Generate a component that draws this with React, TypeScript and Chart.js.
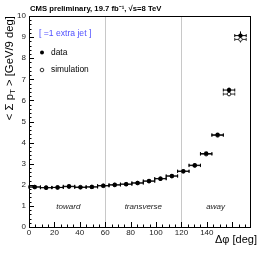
import React, { useEffect, useRef } from "react";
import { Chart, registerables } from "chart.js";

Chart.register(...registerables);

const binCenters = [4.5, 13.5, 22.5, 31.5, 40.5, 49.5, 58.5, 67.5, 76.5, 85.5, 94.5, 103.5, 112.5, 121.5, 130.5, 139.5, 148.5, 157.5, 166.5];
const binHalfWidth = 4.5;
const dataValues = [1.90, 1.86, 1.87, 1.93, 1.88, 1.90, 1.96, 2.00, 2.03, 2.09, 2.18, 2.29, 2.42, 2.65, 2.93, 3.48, 4.37, 6.49, 9.07];
const dataErrors = [0.03, 0.03, 0.03, 0.03, 0.03, 0.03, 0.03, 0.03, 0.03, 0.03, 0.03, 0.04, 0.04, 0.04, 0.05, 0.06, 0.08, 0.12, 0.2];
const simValues = [1.89, 1.87, 1.88, 1.91, 1.89, 1.90, 1.95, 1.99, 2.03, 2.08, 2.17, 2.29, 2.41, 2.63, 2.91, 3.45, 4.34, 6.30, 8.89];
const simErrors = [0.02, 0.02, 0.02, 0.02, 0.02, 0.02, 0.02, 0.02, 0.02, 0.02, 0.02, 0.03, 0.03, 0.03, 0.04, 0.05, 0.06, 0.1, 0.15];
const regionLines = [60, 120];
const regionLabels = ["toward", "transverse", "away"];
const regionCenters = [31, 90, 147];
const xMax = 174;
const yMax = 10;

const FONT = "'Liberation Sans', Arial, Helvetica, sans-serif";

const drawPlugin = {
  id: "rootStyle",
  beforeDatasetsDraw(chart: any) {
    const { ctx, chartArea: a, scales } = chart;
    const xs = scales.x;
    const ys = scales.y;
    ctx.save();
    ctx.strokeStyle = "#c8c8c8";
    ctx.lineWidth = 1;
    regionLines.forEach((v) => {
      const px = Math.round(xs.getPixelForValue(v)) + 0.5;
      ctx.beginPath();
      ctx.moveTo(px, a.top);
      ctx.lineTo(px, a.bottom);
      ctx.stroke();
    });
    const drawErr = (vals: number[], errs: number[], color: string) => {
      ctx.strokeStyle = color;
      ctx.lineWidth = 1;
      vals.forEach((v, i) => {
        const cx = xs.getPixelForValue(binCenters[i]);
        const x1 = xs.getPixelForValue(binCenters[i] - binHalfWidth);
        const x2 = xs.getPixelForValue(binCenters[i] + binHalfWidth);
        const cy = ys.getPixelForValue(v);
        const y1 = ys.getPixelForValue(v - errs[i]);
        const y2 = ys.getPixelForValue(v + errs[i]);
        ctx.beginPath();
        ctx.moveTo(x1, cy);
        ctx.lineTo(x2, cy);
        ctx.moveTo(x1, cy - 1.5);
        ctx.lineTo(x1, cy + 1.5);
        ctx.moveTo(x2, cy - 1.5);
        ctx.lineTo(x2, cy + 1.5);
        ctx.moveTo(cx, Math.min(y2, cy - 0.5));
        ctx.lineTo(cx, Math.max(y1, cy + 0.5));
        ctx.stroke();
      });
    };
    drawErr(simValues, simErrors, "#333");
    drawErr(dataValues, dataErrors, "#000");
    ctx.restore();
  },
  afterDraw(chart: any) {
    const { ctx, chartArea: a, scales } = chart;
    const xs = scales.x;
    const ys = scales.y;
    ctx.save();
    ctx.strokeStyle = "#000";
    ctx.lineWidth = 1;
    ctx.strokeRect(Math.round(a.left) + 0.5, Math.round(a.top) + 0.5, Math.round(a.right - a.left), Math.round(a.bottom - a.top));
    ctx.beginPath();
    for (let v = 0; v <= xMax + 1e-6; v += 5) {
      const px = Math.round(xs.getPixelForValue(v)) + 0.5;
      const len = v % 20 === 0 ? 5 : 2.5;
      ctx.moveTo(px, a.bottom);
      ctx.lineTo(px, a.bottom - len);
    }
    for (let k = 0; k <= yMax * 5; k++) {
      const v = k / 5;
      const py = Math.round(ys.getPixelForValue(v)) + 0.5;
      const len = k % 5 === 0 ? 5 : 2.5;
      ctx.moveTo(a.left, py);
      ctx.lineTo(a.left + len, py);
    }
    ctx.stroke();

    // header
    ctx.fillStyle = "#000";
    ctx.font = `bold 7.7px ${FONT}`;
    ctx.textAlign = "left";
    ctx.textBaseline = "middle";
    ctx.fillText("CMS preliminary, 19.7 fb\u207B\u00B9, \u221As=8 TeV", a.left + 1, 9);

    // legend
    ctx.fillStyle = "#5050ff";
    ctx.font = `8.6px ${FONT}`;
    ctx.fillText("[ =1 extra jet ]", 39, 34);
    ctx.fillStyle = "#000";
    ctx.font = `8.4px ${FONT}`;
    ctx.fillText("data", 51, 53);
    ctx.fillText("simulation", 51, 70);
    ctx.beginPath();
    ctx.arc(42, 52.5, 2, 0, Math.PI * 2);
    ctx.fill();
    ctx.beginPath();
    ctx.lineWidth = 0.8;
    ctx.arc(42, 70, 1.8, 0, Math.PI * 2);
    ctx.stroke();

    // region labels
    ctx.fillStyle = "#222";
    ctx.font = `italic 8px ${FONT}`;
    ctx.textAlign = "center";
    regionLabels.forEach((t, i) => {
      ctx.fillText(t, xs.getPixelForValue(regionCenters[i]), ys.getPixelForValue(0.95));
    });

    // x title
    ctx.fillStyle = "#000";
    ctx.font = `11px ${FONT}`;
    ctx.textAlign = "right";
    ctx.fillText("\u0394\u03C6 [deg]", 257, 240);

    // y title
    ctx.save();
    ctx.translate(10, 16);
    ctx.rotate(-Math.PI / 2);
    ctx.textAlign = "left";
    ctx.textBaseline = "middle";
    ctx.font = `11.3px ${FONT}`;
    const p1 = "< \u03A3 p";
    const sub = "T";
    const p2 = " > [GeV/9 deg]";
    const w1 = ctx.measureText(p1).width;
    const w2 = ctx.measureText(p2).width;
    ctx.font = `8px ${FONT}`;
    const ws = ctx.measureText(sub).width;
    const total = w1 + ws + w2;
    let x = -total;
    ctx.font = `11.3px ${FONT}`;
    ctx.fillText(p1, x, 0);
    x += w1;
    ctx.font = `8px ${FONT}`;
    ctx.fillText(sub, x, 3);
    x += ws;
    ctx.font = `11.3px ${FONT}`;
    ctx.fillText(p2, x, 0);
    ctx.restore();

    ctx.restore();
  },
};

export default function App() {
  const ref = useRef<HTMLCanvasElement | null>(null);
  useEffect(() => {
    if (!ref.current) return;
    const chart = new Chart(ref.current, {
      type: "scatter",
      data: {
        datasets: [
          {
            label: "data",
            data: binCenters.map((x, i) => ({ x, y: dataValues[i] })),
            pointRadius: 2.2,
            pointBackgroundColor: "#000",
            pointBorderColor: "#000",
            pointBorderWidth: 0,
          },
          {
            label: "simulation",
            data: binCenters.map((x, i) => ({ x, y: simValues[i] })),
            pointRadius: 1.8,
            pointBackgroundColor: "#fff",
            pointBorderColor: "#000",
            pointBorderWidth: 0.8,
          },
        ],
      },
      options: {
        animation: false,
        responsive: false,
        devicePixelRatio: 1,
        layout: { padding: { left: 0, right: 16, top: 16, bottom: 0 } },
        plugins: { legend: { display: false }, tooltip: { enabled: false }, title: { display: false } },
        scales: {
          x: {
            type: "linear",
            min: 0,
            max: xMax,
            grid: { display: false, drawTicks: false },
            border: { display: false },
            ticks: {
              stepSize: 20,
              padding: 1,
              maxRotation: 0,
              color: "#222",
              font: { size: 8, family: FONT },
            },
            afterBuildTicks: (s: any) => {
              s.ticks = s.ticks.filter((t: any) => t.value % 20 === 0);
            },
            afterFit: (s: any) => {
              s.height = 28;
            },
          },
          y: {
            type: "linear",
            min: 0,
            max: yMax,
            grid: { display: false, drawTicks: false },
            border: { display: false },
            ticks: {
              stepSize: 1,
              padding: 3,
              color: "#222",
              font: { size: 8, family: FONT },
            },
            afterFit: (s: any) => {
              s.width = 29;
            },
          },
        },
      },
      plugins: [drawPlugin],
    });
    return () => chart.destroy();
  }, []);
  return (
    <div style={{ position: "fixed", left: 0, top: 0, width: 266, height: 255, background: "#fff" }}>
      <canvas ref={ref} width={266} height={255} style={{ width: 266, height: 255 }} />
    </div>
  );
}
